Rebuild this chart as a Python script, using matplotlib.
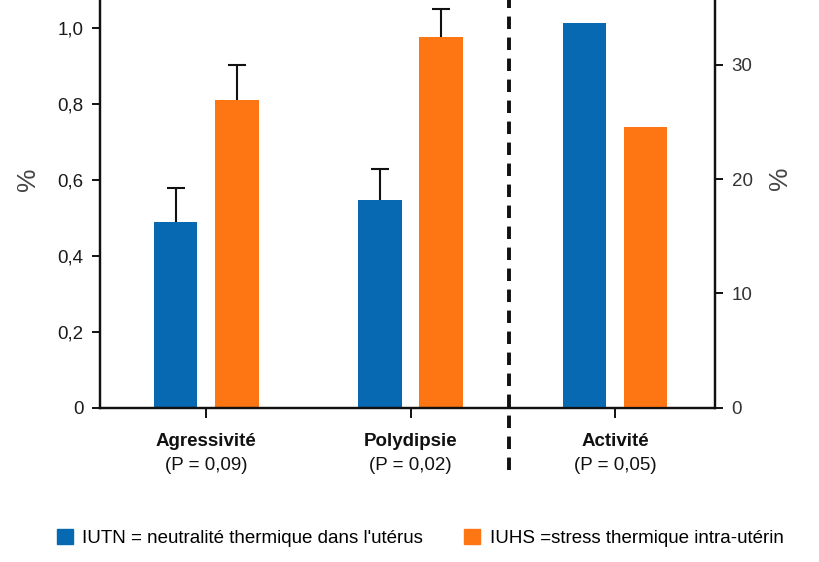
import numpy as np
import matplotlib.pyplot as plt
from matplotlib.patches import Patch

plt.rcParams['font.family'] = ['Liberation Sans', 'DejaVu Sans']

# données
categories = ['Agressivité', 'Polydipsie', 'Activité']
p_values = ['(P = 0,09)', '(P = 0,02)', '(P = 0,05)']
iutn_left = [0.488, 0.546]
iuhs_left = [0.81, 0.976]
iutn_err = [0.09, 0.082]
iuhs_err = [0.092, 0.073]
iutn_right = [33.7]
iuhs_right = [24.6]
left_ticks = [0, 0.2, 0.4, 0.6, 0.8, 1.0]
left_labels = ['0', '0,2', '0,4', '0,6', '0,8', '1,0']
right_ticks = [0, 10, 20, 30]
right_labels = ['0', '10', '20', '30']
legend_labels = ["IUTN = neutralité thermique dans l'utérus",
                 'IUHS =stress thermique intra-utérin']

blue = '#0669b2'
orange = '#fd7613'
width = 0.213
off = 0.15

fig = plt.figure(figsize=(8.2, 5.62), dpi=100)
ax = fig.add_axes([0.122, 0.2749, 0.750, 0.7251])
ax2 = ax.twinx()

x_left = np.arange(2)
for xs, vals, errs, col in [(x_left - off, iutn_left, iutn_err, blue),
                            (x_left + off, iuhs_left, iuhs_err, orange)]:
    vals = np.array(vals)
    errs = np.array(errs)
    ax.bar(xs, vals, width, color=col, zorder=2)
    # barre d'erreur seulement vers le haut
    ax.vlines(xs, vals, vals + errs, color='#111111', lw=1.5, zorder=1)
    ax.plot(xs, vals + errs, ls='none', marker='_', markersize=13,
            mew=1.5, color='#111111', zorder=1)

x_right = np.array([2])
ax2.bar(x_right - off, iutn_right, width, color=blue)
ax2.bar(x_right + off, iuhs_right, width, color=orange)

ax.set_xlim(-0.52, 2.49)
ax.set_ylim(0, 1.0738)
ax2.set_ylim(0, 35.69)

ax.set_yticks(left_ticks)
ax.set_yticklabels(left_labels)
ax2.set_yticks(right_ticks)
ax2.set_yticklabels(right_labels)
ax.set_xticks([0, 1, 2])
ax.set_xticklabels([])

for a in (ax, ax2):
    a.spines['top'].set_visible(False)
    for s in a.spines.values():
        s.set_linewidth(1.6)
        s.set_color('#111111')
    a.tick_params(axis='both', direction='out', length=6, width=1.4,
                  color='#111111', labelsize=13.5, pad=6)
ax.tick_params(axis='y', labelcolor='#1a1a1a')
ax2.tick_params(axis='y', labelcolor='#333333')
ax.tick_params(axis='x', length=7)

ax.set_ylabel('%', fontsize=19, color='#444444')
ax.yaxis.set_label_coords(-0.097, 0.56)
ax2.set_ylabel('%', fontsize=19, color='#444444', rotation=90)
ax2.yaxis.set_label_coords(1.086, 0.563)

# séparation entre les deux échelles
ax.axvline(1.48, ymin=-0.153, ymax=1, clip_on=False, color='#111111',
           lw=2.8, dashes=(3.2, 2.2), zorder=3)

for i, (cat, p) in enumerate(zip(categories, p_values)):
    ax.text(i, -0.09, cat, ha='center', va='center', fontsize=13.5,
            fontweight='bold', color='#111111')
    ax.text(i, -0.153, p, ha='center', va='center', fontsize=13.5,
            color='#111111')

handles = [Patch(color=blue), Patch(color=orange)]
fig.legend(handles, legend_labels, loc='center left',
           bbox_to_anchor=(57 / 820, 1 - 538 / 562), ncol=2, frameon=False,
           fontsize=13.5, handlelength=0.85, handleheight=0.85,
           handletextpad=0.5, columnspacing=2.2, borderpad=0, borderaxespad=0)

fig.savefig('out.png', dpi=100)
